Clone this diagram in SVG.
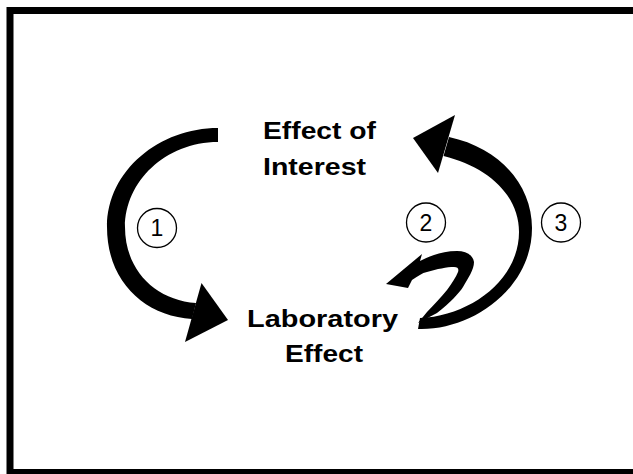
<svg xmlns="http://www.w3.org/2000/svg" width="633" height="474" viewBox="0 0 633 474">
<style>
.lbl{font-family:"Liberation Sans",Arial,sans-serif;font-weight:bold;font-size:24.5px;fill:#000}
.num{font-family:"Liberation Sans",Arial,sans-serif;font-size:23px;fill:#000;text-anchor:middle}
.circ{fill:none;stroke:#000;stroke-width:1.3}
.arr{fill:#000;stroke:none}
</style>
<rect x="0" y="0" width="633" height="474" fill="#fff"/>
<rect x="10" y="10.5" width="640" height="462" fill="none" stroke="#000" stroke-width="7"/>
<g id="node-effect-of-interest">
<text class="lbl" x="263" y="139" textLength="113" lengthAdjust="spacingAndGlyphs">Effect of</text>
<text class="lbl" x="263" y="175" textLength="103" lengthAdjust="spacingAndGlyphs">Interest</text>
</g>
<g id="node-laboratory-effect">
<text class="lbl" x="247" y="327" textLength="151" lengthAdjust="spacingAndGlyphs">Laboratory</text>
<text class="lbl" x="285" y="362" textLength="78" lengthAdjust="spacingAndGlyphs">Effect</text>
</g>
<g id="connectors">
<g id="arrow-1">
<path class="arr" d="M218,128 C160,128 107,170 107,227 C107,282 145,316 192,319 L196,303 C155,300 125,270 125,227 C125,182 165,142 218,142 Z"/>
<polygon class="arr" points="201.5,283 228,320 185,342"/>
</g>
<g id="arrow-3">
<path class="arr" d="M418,329 C470,331 532,290 532,228 C532,185 500,148 449,137 L443.5,156 C488,167 519,195 519,232 C519,280 470,316 420,318 Z"/>
<polygon class="arr" points="455,115 413,138 438,173"/>
</g>
<g id="arrow-2">
<path class="arr" d="M418,323 L437,313 C450,303 460,292 463,287 C468,278 474,270 474,262 C473,255 466,251 457,251 C448,251 440,253 434,255 C428,257 424,259 420,261 L422,254 L386,284 L408,288 L412,280 C418,276 422,273 427,272 C437,269 447,267 454,267 C458,267 459,269 458,272 C456,277 452,283 447,290 C441,297 434,305 427,312 Z"/>
</g>
</g>
<g id="badge-1"><circle class="circ" cx="157" cy="228" r="19.5"/><text class="num" x="157" y="236">1</text></g>
<g id="badge-2"><circle class="circ" cx="426" cy="222.5" r="19.5"/><text class="num" x="426" y="231">2</text></g>
<g id="badge-3"><circle class="circ" cx="561" cy="222.5" r="19.5"/><text class="num" x="561" y="231">3</text></g>
</svg>
